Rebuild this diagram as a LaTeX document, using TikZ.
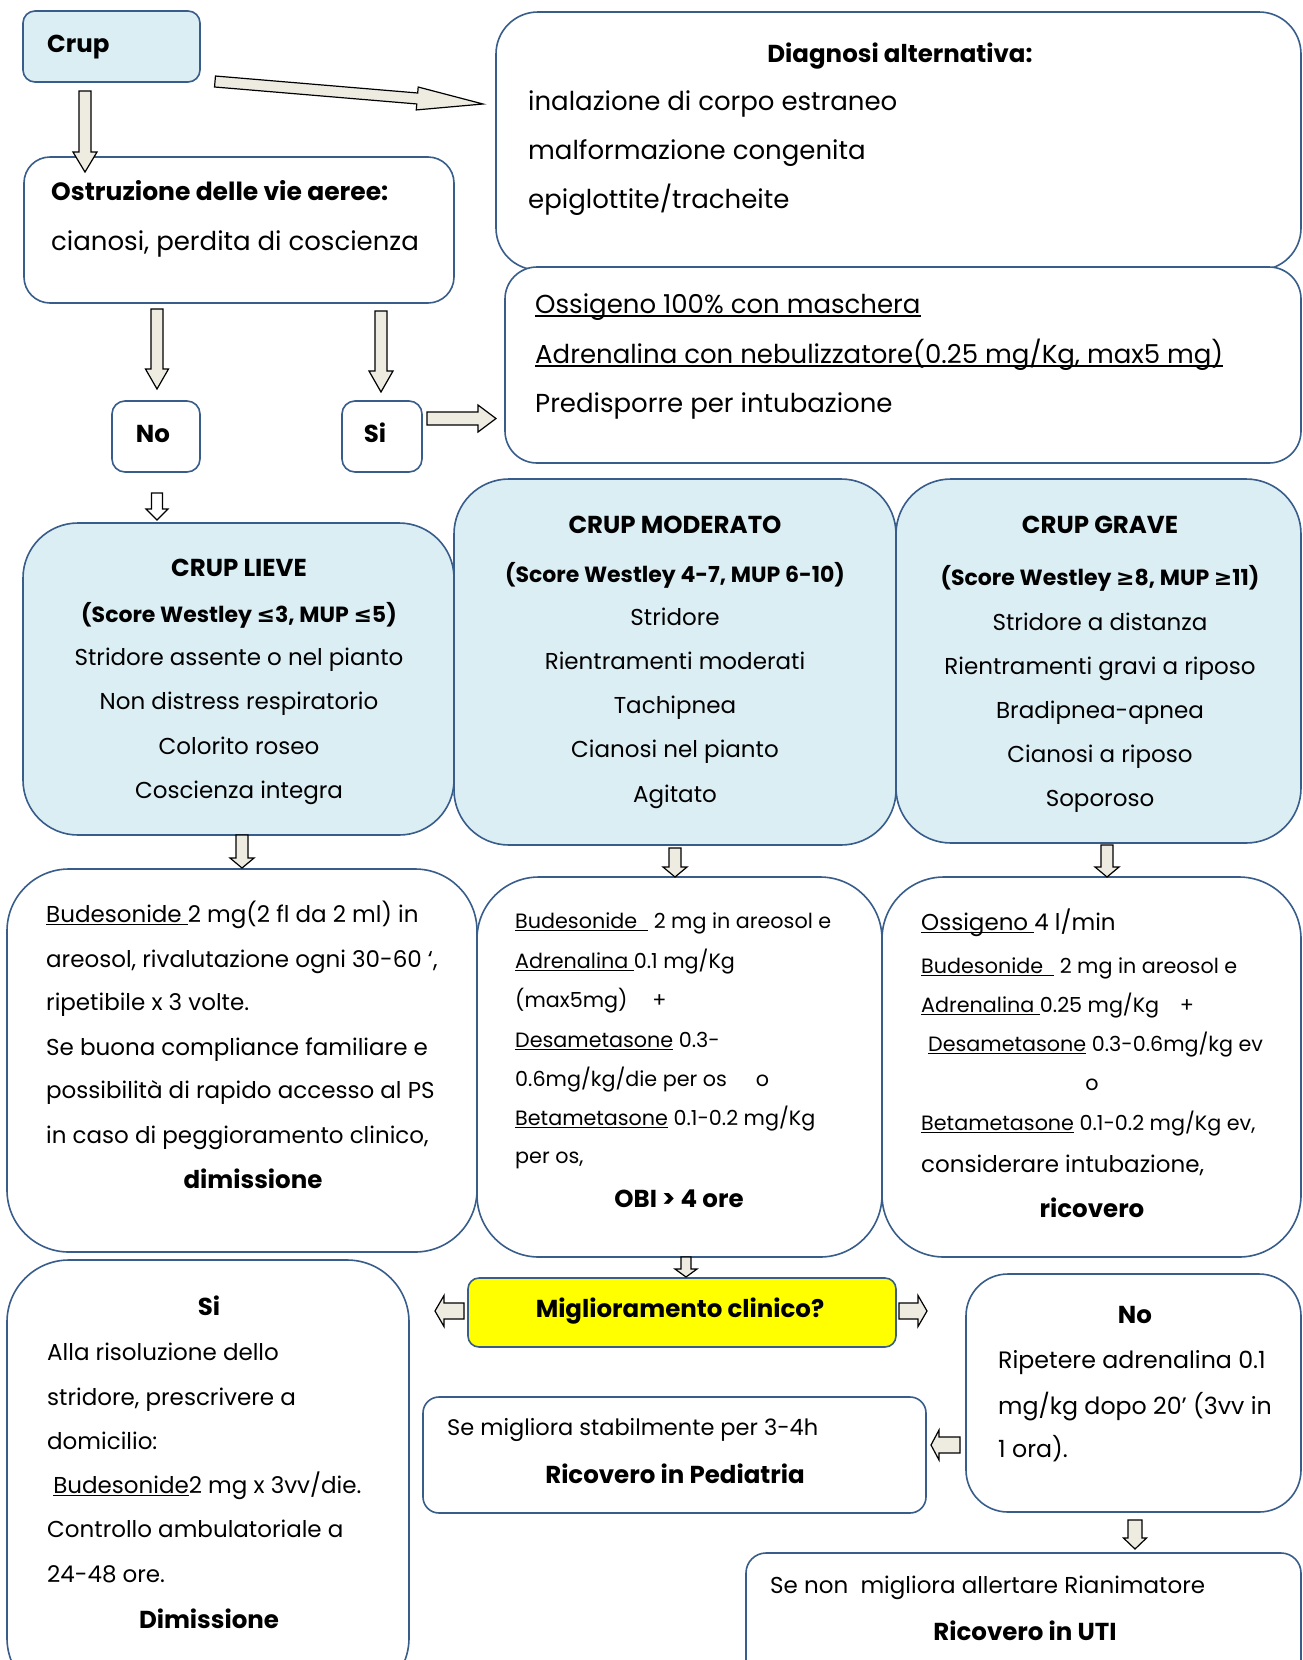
\documentclass[tikz,border=0pt]{standalone}
\usepackage{fontspec}
\setmainfont{Poppins}
\newfontfamily\symf{DejaVu Sans}
\definecolor{bordc}{HTML}{385D8A}
\definecolor{lblue}{HTML}{DBEEF4}
\definecolor{afill}{HTML}{EEECE1}
\definecolor{yel}{HTML}{FFFF00}
\newsavebox\ulbox
\newcommand{\myul}[1]{\sbox\ulbox{#1}\rlap{\rule[-0.15em]{\wd\ulbox}{0.07em}}\usebox\ulbox}
\newcommand{\fT}{\fontsize{26}{30}\selectfont}
\newcommand{\bT}{\fontsize{25}{30}\selectfont\bfseries}
\newcommand{\fM}{\fontsize{23}{28}\selectfont}
\newcommand{\bM}{\fontsize{24.5}{28}\selectfont\bfseries}
\newcommand{\bS}{\fontsize{22}{28}\selectfont\bfseries}
\newcommand{\fS}{\fontsize{20.7}{25}\selectfont}
\newcommand{\bxx}[7]{\node[boxsty, fill=#7, rounded corners=#6, minimum width={(#4-#2)*1pt}, minimum height={(#5-#3)*1pt}] (#1) at ({(#2+#4)/2},{(#3+#5)/2}) {};}
\newcommand{\barrow}[8][afill]{%
 \pgfmathsetmacro\bdx{#4-#2}\pgfmathsetmacro\bdy{#5-#3}%
 \pgfmathsetmacro\bL{veclen(\bdx,\bdy)}%
 \pgfmathsetmacro\bux{\bdx/\bL}\pgfmathsetmacro\buy{\bdy/\bL}%
 \pgfmathsetmacro\bnx{-\buy}\pgfmathsetmacro\bny{\bux}%
 \pgfmathsetmacro\bhx{#4-#8*\bux}\pgfmathsetmacro\bhy{#5-#8*\buy}%
 \draw[arrsty, fill=#1] ({#2+#6*\bnx},{#3+#6*\bny}) -- ({\bhx+#6*\bnx},{\bhy+#6*\bny}) -- ({\bhx+#7*\bnx},{\bhy+#7*\bny}) -- (#4,#5) -- ({\bhx-#7*\bnx},{\bhy-#7*\bny}) -- ({\bhx-#6*\bnx},{\bhy-#6*\bny}) -- ({#2-#6*\bnx},{#3-#6*\bny}) -- cycle;}
\tikzset{
 boxsty/.style={draw=bordc, line width=1.6pt, inner sep=0pt, outer sep=0pt},
 arrsty/.style={draw=black, line width=1.2pt, line join=miter},
 tl/.style={anchor=base west, inner sep=0pt, font=\fM},
 tc/.style={anchor=base, inner sep=0pt, font=\fM},
}
\begin{document}
\begin{tikzpicture}[x=1pt,y=-1pt]
\useasboundingbox (0,0) rectangle (1303,1660);
\clip (0,0) rectangle (1303,1660);
\fill[white] (0,0) rectangle (1303,1660);
% boxes
\bxx{crup}{23}{11}{200}{82}{12pt}{lblue}
\bxx{ostr}{24}{157}{454}{303}{26pt}{white}
\bxx{diag}{496}{12}{1301}{270}{42pt}{white}
\bxx{ossi}{505}{267}{1301}{463}{32pt}{white}
\bxx{no}{112}{401}{200}{472}{13pt}{white}
\bxx{si}{342}{401}{422}{472}{13pt}{white}
\bxx{lieve}{23}{523}{454}{835}{55pt}{lblue}
\bxx{mod}{454}{479}{896}{845}{55pt}{lblue}
\bxx{grave}{896}{479}{1301}{843}{55pt}{lblue}
\bxx{tlieve}{7}{869}{477}{1252}{62pt}{white}
\bxx{tmod}{477}{877}{882}{1257}{62pt}{white}
\bxx{tgrave}{882}{877}{1301}{1257}{62pt}{white}
\bxx{migl}{468}{1278}{896}{1347}{11pt}{yel}
\bxx{sib}{7}{1260}{409}{1700}{62pt}{white}
\bxx{semig}{423}{1397}{926}{1513}{16pt}{white}
\bxx{nob}{966}{1274}{1301}{1512}{42pt}{white}
\bxx{uti}{746}{1553}{1301}{1700}{20pt}{white}
% arrows
\barrow{85}{91}{85}{172}{6}{12}{20}
\barrow{215}{81.5}{483}{104}{5.5}{11.5}{66}
\barrow{157}{309}{157}{389}{6}{11.5}{20}
\barrow{381}{311}{381}{392}{6}{12}{21}
\barrow{427}{418.5}{496}{418.5}{6.5}{13.5}{18}
\barrow[white]{157}{493}{157}{520}{5.5}{11}{11}
\barrow{242}{835}{242}{868}{6}{12}{10}
\barrow{675}{848}{675}{877}{6}{12}{10}
\barrow{1107}{845}{1107}{877}{6}{12}{10}
\barrow{686}{1257}{686}{1277}{5}{11}{8}
\barrow{464}{1311}{435}{1311}{8}{15.5}{9}
\barrow{899}{1311}{927}{1311}{8}{15.5}{9}
\barrow{960}{1445}{931}{1445}{8}{15}{8}
\barrow{1135}{1520}{1135}{1549}{7}{11.5}{11}
% top texts
\node[tl, font=\bM] (tcrup) at (47,52) {Crup};
\node[tl, font=\bT] (tostr1) at (51,200) {Ostruzione delle vie aeree:};
\node[tl, font=\fT] (tostr2) at (51,250) {cianosi, perdita di coscienza};
\node[tc, font=\bM] (tdia1) at (900,62) {Diagnosi alternativa:};
\node[tl, font=\fT] (tdia2) at (528,110) {inalazione di corpo estraneo};
\node[tl, font=\fT] (tdia3) at (528,159) {malformazione congenita};
\node[tl, font=\fT] (tdia4) at (528,208) {epiglottite/tracheite};
\node[tl, font=\fT] (tossi1) at (535,313) {\myul{Ossigeno 100\% con maschera}};
\node[tl, font=\fT] (tossi2) at (535,363) {\myul{Adrenalina con nebulizzatore(0.25 mg/Kg, max5 mg)}};
\node[tl, font=\fT] (tossi3) at (535,412) {Predisporre per intubazione};
\node[tc, font=\bM] (tno) at (153,442) {No};
\node[tc, font=\bM] (tsi) at (375,442) {Si};
% CRUP boxes
\node[tc, font=\bM] (tl1) at (239,576) {CRUP LIEVE};
\node[tc, font=\bS] (tl2) at (239,622) {(Score Westley {\symf ≤}3, MUP {\symf ≤}5)};
\node[tc] (tl3) at (239,665) {Stridore assente o nel pianto};
\node[tc] (tl4) at (239,709) {Non distress respiratorio};
\node[tc] (tl5) at (239,754) {Colorito roseo};
\node[tc] (tl6) at (239,798) {Coscienza integra};
\node[tc, font=\bM] (tm1) at (675,533) {CRUP MODERATO};
\node[tc, font=\bS] (tm2) at (675,582) {(Score Westley 4-7, MUP 6-10)};
\node[tc] (tm3) at (675,625) {Stridore};
\node[tc] (tm4) at (675,669) {Rientramenti moderati};
\node[tc] (tm5) at (675,713) {Tachipnea};
\node[tc] (tm6) at (675,757) {Cianosi nel pianto};
\node[tc] (tm7) at (675,802) {Agitato};
\node[tc, font=\bM] (tg1) at (1100,533) {CRUP GRAVE};
\node[tc, font=\bS] (tg2) at (1100,585) {(Score Westley {\symf ≥}8, MUP {\symf ≥}11)};
\node[tc] (tg3) at (1100,630) {Stridore a distanza};
\node[tc] (tg4) at (1100,674) {Rientramenti gravi a riposo};
\node[tc] (tg5) at (1100,718) {Bradipnea-apnea};
\node[tc] (tg6) at (1100,762) {Cianosi a riposo};
\node[tc] (tg7) at (1100,806) {Soporoso};
% treatment lieve
\node[tl] (ttl1) at (46,922) {\myul{Budesonide }2 mg(2 fl da 2 ml) in};
\node[tl] (ttl2) at (46,967) {areosol, rivalutazione ogni 30-60 ‘,};
\node[tl] (ttl3) at (46,1010) {ripetibile x 3 volte.};
\node[tl] (ttl4) at (46,1055) {Se buona compliance familiare e};
\node[tl] (ttl5) at (46,1098) {possibilità di rapido accesso al PS};
\node[tl] (ttl6) at (46,1143) {in caso di peggioramento clinico,};
\node[tc, font=\bM] (ttl7) at (253,1188) {dimissione};
% treatment moderato
\node[tl, font=\fS] (ttm1) at (515,928) {\myul{Budesonide\ \ }\ 2 mg in areosol e};
\node[tl, font=\fS] (ttm2) at (515,968) {\myul{Adrenalina }0.1 mg/Kg};
\node[tl, font=\fS] (ttm3) at (515,1007) {(max5mg)\hspace{1.2em}+};
\node[tl, font=\fS] (ttm4) at (515,1047) {\myul{Desametasone} 0.3-};
\node[tl, font=\fS] (ttm5) at (515,1086) {0.6mg/kg/die per os\hspace{1.4em}o};
\node[tl, font=\fS] (ttm6) at (515,1125) {\myul{Betametasone} 0.1-0.2 mg/Kg};
\node[tl, font=\fS] (ttm7) at (515,1163) {per os,};
\node[tc, font=\bM] (ttm8) at (679,1207) {OBI > 4 ore};
% treatment grave
\node[tl] (ttg1) at (921,930) {\myul{Ossigeno }4 l/min};
\node[tl, font=\fS] (ttg2) at (921,973) {\myul{Budesonide\ \ }\ 2 mg in areosol e};
\node[tl, font=\fS] (ttg3) at (921,1012) {\myul{Adrenalina }0.25 mg/Kg\hspace{1em}+};
\node[tl, font=\fS] (ttg4) at (928,1051) {\myul{Desametasone} 0.3-0.6mg/kg ev};
\node[tc, font=\fS] (ttg5) at (1092,1090) {o};
\node[tl, font=\fS] (ttg6) at (921,1130) {\myul{Betametasone} 0.1-0.2 mg/Kg ev,};
\node[tl] (ttg7) at (921,1172) {considerare intubazione,};
\node[tc, font=\bM] (ttg8) at (1092,1217) {ricovero};
% bottom
\node[tc, font=\bM] (tmig) at (680,1317) {Miglioramento clinico?};
\node[tc, font=\bM] (tsi1) at (209,1315) {Si};
\node[tl] (tsi2) at (47,1360) {Alla risoluzione dello};
\node[tl] (tsi3) at (47,1405) {stridore, prescrivere a};
\node[tl] (tsi4) at (47,1449) {domicilio:};
\node[tl] (tsi5) at (47,1493) {\ \myul{Budesonide}2 mg x 3vv/die.};
\node[tl] (tsi6) at (47,1537) {Controllo ambulatoriale a};
\node[tl] (tsi7) at (47,1582) {24-48 ore.};
\node[tc, font=\bM] (tsi8) at (209,1628) {Dimissione};
\node[tl, font=\fontsize{22.5}{28}\selectfont] (tsm1) at (447,1435) {Se migliora stabilmente per 3-4h};
\node[tc, font=\bM] (tsm2) at (675,1483) {Ricovero in Pediatria};
\node[tc, font=\bM] (tnb1) at (1135,1323) {No};
\node[tl, font=\fontsize{23.7}{28}\selectfont] (tnb2) at (998,1368) {Ripetere adrenalina 0.1};
\node[tl, font=\fontsize{23.7}{28}\selectfont] (tnb3) at (998,1414) {mg/kg dopo 20’ (3vv in};
\node[tl, font=\fontsize{23.7}{28}\selectfont] (tnb4) at (998,1457) {1 ora).};
\node[tl] (tuti1) at (770,1593) {Se non\ \ migliora allertare Rianimatore};
\node[tc, font=\bM] (tuti2) at (1025,1640) {Ricovero in UTI};
\end{tikzpicture}
\end{document}
